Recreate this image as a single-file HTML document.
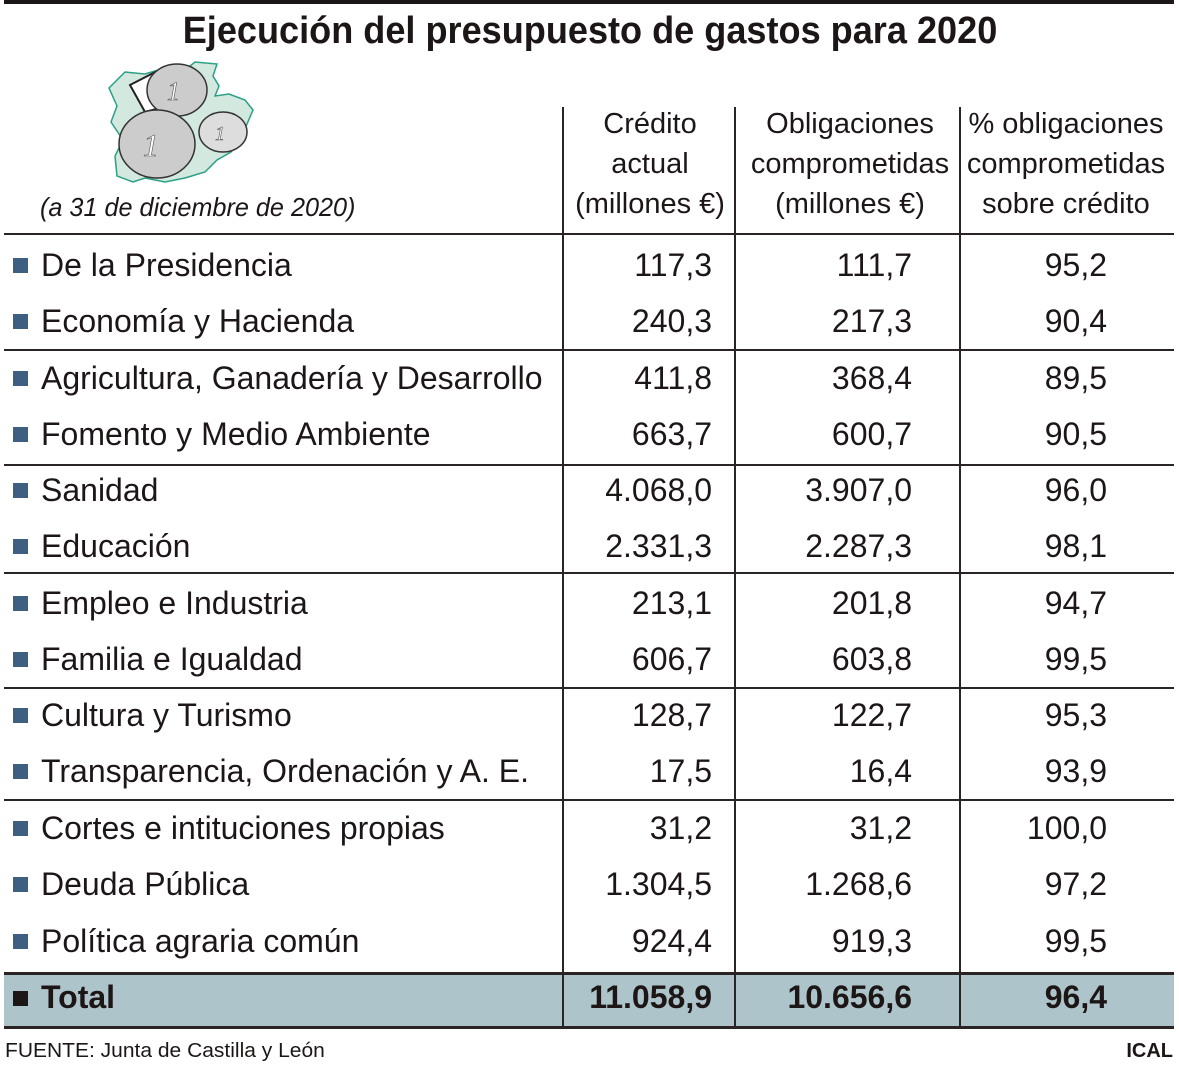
<!DOCTYPE html>
<html><head><meta charset="utf-8"><style>
body{margin:0;width:1179px;height:1067px;background:#fff;position:relative;overflow:hidden;font-family:"Liberation Sans",sans-serif;color:#1c1716}
.t{position:absolute;white-space:nowrap;line-height:1}
.l{transform:scaleX(1.0);transform-origin:left center;font-size:32px}
.r{transform:scaleX(1.0);transform-origin:right center;font-size:32px;text-align:right}
.c{transform:translateX(-50%) scaleX(1.0);font-size:29px;text-align:center;line-height:40px}
.hl{position:absolute;left:4px;width:1170px;height:2px;background:#2a2524}
.vl{position:absolute;width:2px;background:#2a2524;top:107px;height:922px}
.sq{position:absolute;left:13px;width:15px;height:15px;background:#3d6080}
</style></head><body>
<div style="position:absolute;left:4px;top:0;width:1170px;height:4px;background:#1c1716"></div>
<div class="t" style="left:590px;top:12px;font-size:38px;font-weight:bold;transform:translateX(-50%) scaleX(.95)">Ejecución del presupuesto de gastos para 2020</div>
<svg style="position:absolute;left:105px;top:60px" width="155" height="125" viewBox="0 0 155 125">
<path d="M4,28 L20,12 L40,14 L60,8 L85,6 L90,2 L112,4 L108,16 L114,26 L110,36 L124,34 L140,40 L148,50 L142,64 L136,80 L126,92 L112,100 L100,112 L80,118 L60,122 L40,118 L28,122 L12,116 L10,96 L18,80 L6,62 L12,46 Z" fill="#d3e8df" stroke="#2aa085" stroke-width="1.5"/>
<path d="M25,25 L58,8 L70,44 L40,52 Z" fill="#fff" stroke="#222" stroke-width="2"/>
<ellipse cx="72" cy="30" rx="30" ry="26" fill="#ccc" stroke="#333" stroke-width="1.5"/>
<ellipse cx="52" cy="84" rx="38" ry="34" fill="#ccc" stroke="#333" stroke-width="1.5"/>
<ellipse cx="118" cy="72" rx="24" ry="20" fill="#ddd" stroke="#333" stroke-width="1.5"/>
<text x="62" y="40" font-size="26" font-style="italic" fill="#fff" stroke="#555" stroke-width=".6" font-family="Liberation Serif">1</text>
<text x="38" y="96" font-size="32" font-style="italic" fill="#fff" stroke="#555" stroke-width=".6" font-family="Liberation Serif">1</text>
<text x="110" y="80" font-size="20" font-style="italic" fill="#fff" stroke="#555" stroke-width=".6" font-family="Liberation Serif">1</text>
</svg>
<div class="t" style="left:40px;top:194px;font-size:26px;font-style:italic;transform:scaleX(.97);transform-origin:left center">(a 31 de diciembre de 2020)</div>
<div class="t c" style="left:650px;top:104px">Crédito<br>actual<br>(millones €)</div>
<div class="t c" style="left:850px;top:104px">Obligaciones<br>comprometidas<br>(millones €)</div>
<div class="t c" style="left:1066px;top:104px">% obligaciones<br>comprometidas<br>sobre crédito</div>
<div class="vl" style="left:562px"></div><div class="vl" style="left:734px"></div><div class="vl" style="left:959px"></div>
<div class="hl" style="top:233px"></div>
<div class="hl" style="top:349px"></div>
<div class="hl" style="top:464px"></div>
<div class="hl" style="top:572px"></div>
<div class="hl" style="top:687px"></div>
<div class="hl" style="top:799px"></div>
<div style="position:absolute;left:4px;top:972px;width:1170px;height:57px;background:#aec4cb;border-top:3px solid #2a2524;border-bottom:3px solid #2a2524;box-sizing:border-box"></div>
<div class="vl" style="left:562px;top:972px;height:57px"></div><div class="vl" style="left:734px;top:972px;height:57px"></div><div class="vl" style="left:959px;top:972px;height:57px"></div>

<div class="sq" style="top:258px"></div><div class="t l" style="left:41px;top:249px">De la Presidencia</div><div class="t r" style="right:467px;top:249px">117,3</div><div class="t r" style="right:267px;top:249px">111,7</div><div class="t r" style="right:72px;top:249px">95,2</div>
<div class="sq" style="top:314px"></div><div class="t l" style="left:41px;top:305px">Economía y Hacienda</div><div class="t r" style="right:467px;top:305px">240,3</div><div class="t r" style="right:267px;top:305px">217,3</div><div class="t r" style="right:72px;top:305px">90,4</div>
<div class="sq" style="top:371px"></div><div class="t l" style="left:41px;top:362px">Agricultura, Ganadería y Desarrollo</div><div class="t r" style="right:467px;top:362px">411,8</div><div class="t r" style="right:267px;top:362px">368,4</div><div class="t r" style="right:72px;top:362px">89,5</div>
<div class="sq" style="top:427px"></div><div class="t l" style="left:41px;top:418px">Fomento y Medio Ambiente</div><div class="t r" style="right:467px;top:418px">663,7</div><div class="t r" style="right:267px;top:418px">600,7</div><div class="t r" style="right:72px;top:418px">90,5</div>
<div class="sq" style="top:483px"></div><div class="t l" style="left:41px;top:474px">Sanidad</div><div class="t r" style="right:467px;top:474px">4.068,0</div><div class="t r" style="right:267px;top:474px">3.907,0</div><div class="t r" style="right:72px;top:474px">96,0</div>
<div class="sq" style="top:539px"></div><div class="t l" style="left:41px;top:530px">Educación</div><div class="t r" style="right:467px;top:530px">2.331,3</div><div class="t r" style="right:267px;top:530px">2.287,3</div><div class="t r" style="right:72px;top:530px">98,1</div>
<div class="sq" style="top:596px"></div><div class="t l" style="left:41px;top:587px">Empleo e Industria</div><div class="t r" style="right:467px;top:587px">213,1</div><div class="t r" style="right:267px;top:587px">201,8</div><div class="t r" style="right:72px;top:587px">94,7</div>
<div class="sq" style="top:652px"></div><div class="t l" style="left:41px;top:643px">Familia e Igualdad</div><div class="t r" style="right:467px;top:643px">606,7</div><div class="t r" style="right:267px;top:643px">603,8</div><div class="t r" style="right:72px;top:643px">99,5</div>
<div class="sq" style="top:708px"></div><div class="t l" style="left:41px;top:699px">Cultura y Turismo</div><div class="t r" style="right:467px;top:699px">128,7</div><div class="t r" style="right:267px;top:699px">122,7</div><div class="t r" style="right:72px;top:699px">95,3</div>
<div class="sq" style="top:764px"></div><div class="t l" style="left:41px;top:755px">Transparencia, Ordenación y A. E.</div><div class="t r" style="right:467px;top:755px">17,5</div><div class="t r" style="right:267px;top:755px">16,4</div><div class="t r" style="right:72px;top:755px">93,9</div>
<div class="sq" style="top:821px"></div><div class="t l" style="left:41px;top:812px">Cortes e intituciones propias</div><div class="t r" style="right:467px;top:812px">31,2</div><div class="t r" style="right:267px;top:812px">31,2</div><div class="t r" style="right:72px;top:812px">100,0</div>
<div class="sq" style="top:877px"></div><div class="t l" style="left:41px;top:868px">Deuda Pública</div><div class="t r" style="right:467px;top:868px">1.304,5</div><div class="t r" style="right:267px;top:868px">1.268,6</div><div class="t r" style="right:72px;top:868px">97,2</div>
<div class="sq" style="top:934px"></div><div class="t l" style="left:41px;top:925px">Política agraria común</div><div class="t r" style="right:467px;top:925px">924,4</div><div class="t r" style="right:267px;top:925px">919,3</div><div class="t r" style="right:72px;top:925px">99,5</div>

<div class="sq" style="top:991px;background:#1c1716"></div><div class="t l" style="left:41px;top:981px;font-weight:bold">Total</div><div class="t r" style="right:467px;top:981px;font-weight:bold">11.058,9</div><div class="t r" style="right:267px;top:981px;font-weight:bold">10.656,6</div><div class="t r" style="right:72px;top:981px;font-weight:bold">96,4</div>

<div class="t" style="left:5px;top:1041px;font-size:20px;transform:scaleX(1.05);transform-origin:left center">FUENTE: Junta de Castilla y León</div>
<div class="t" style="right:6px;top:1041px;font-size:20px;font-weight:bold;transform:scaleX(1.0);transform-origin:right center">ICAL</div>
</body></html>
